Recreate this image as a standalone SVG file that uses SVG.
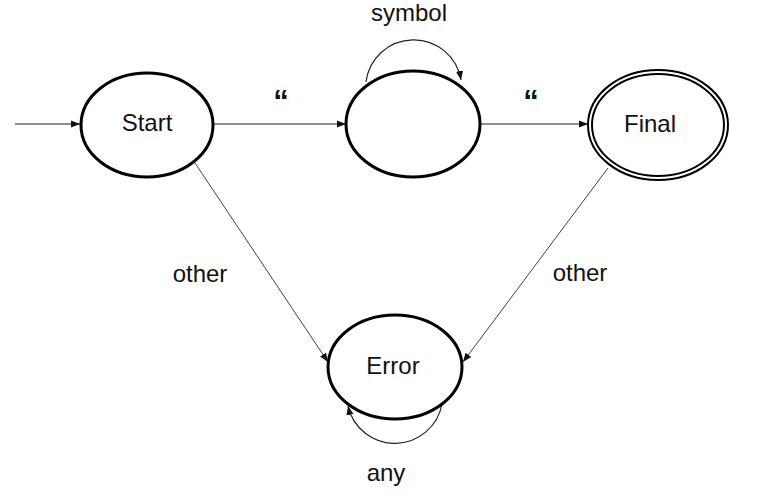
<svg xmlns="http://www.w3.org/2000/svg" width="782" height="496" viewBox="0 0 782 496">
<style>
.st{fill:#fff;stroke:#000;stroke-width:3}
.dbl{fill:none;stroke:#000;stroke-width:2}
.lbl{font-family:"Liberation Sans",Arial,sans-serif;font-size:24px;fill:#111;text-anchor:middle}
.q{font-family:"Liberation Sans",Arial,sans-serif;font-size:31px;font-weight:bold;fill:#111;text-anchor:middle}
.e{fill:none;stroke:#222;stroke-width:1.2;marker-end:url(#ah)}
.ed{fill:none;stroke:#444;stroke-width:1;marker-end:url(#ah)}
</style>
<defs>
<marker id="ah" viewBox="0 0 10 10" refX="10" refY="5" markerWidth="9" markerHeight="9" markerUnits="userSpaceOnUse" orient="auto">
<path d="M0,1 L10,5 L0,9 z" fill="#111"/>
</marker>
</defs>
<rect width="782" height="496" fill="#fff"/>
<g id="connectors">
<line class="e" x1="15" y1="124" x2="80" y2="124"/>
<line class="e" x1="213" y1="124" x2="346" y2="124"/>
<line class="e" x1="480" y1="124" x2="588" y2="124"/>
<line class="ed" x1="195" y1="163" x2="328" y2="362"/>
<line class="ed" x1="608" y1="168" x2="463" y2="362"/>
<path class="e" d="M366,82 A48,48 0 0 1 461,80"/>
<path class="e" d="M442,404 A48,48 0 0 1 348,406"/>
<text class="q" x="281" y="112">“</text>
<text class="q" x="531" y="112">“</text>
<text class="lbl" x="409" y="21">symbol</text>
<text class="lbl" x="200" y="282">other</text>
<text class="lbl" x="580" y="281">other</text>
<text class="lbl" x="386" y="481">any</text>
</g>
<g id="start">
<ellipse class="st" cx="147" cy="125" rx="66" ry="52"/>
<text class="lbl" x="147" y="131">Start</text>
</g>
<g id="middle">
<ellipse class="st" cx="413" cy="124" rx="67" ry="53"/>
</g>
<g id="final">
<ellipse class="dbl" cx="658" cy="125" rx="70" ry="55"/>
<ellipse class="dbl" cx="658" cy="125" rx="66" ry="51"/>
<text class="lbl" x="650" y="132">Final</text>
</g>
<g id="error">
<ellipse class="st" cx="395" cy="367" rx="67" ry="52"/>
<text class="lbl" x="393" y="374">Error</text>
</g>
</svg>
